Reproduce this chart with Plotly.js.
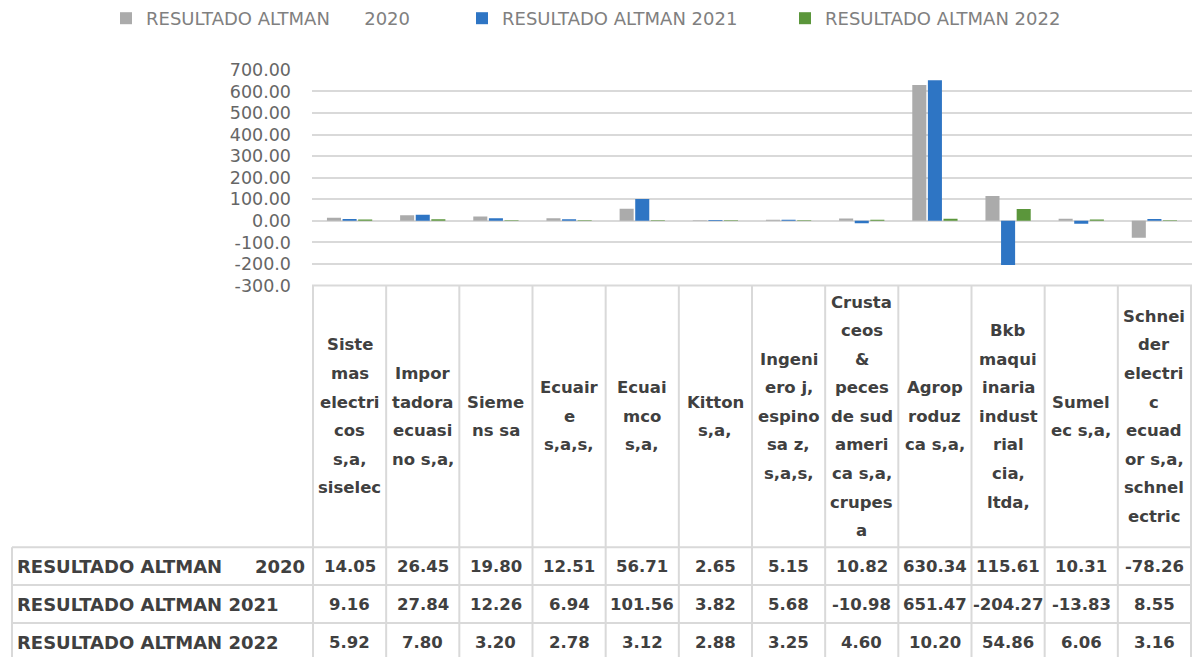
<!DOCTYPE html>
<html>
<head>
<meta charset="utf-8">
<script src="https://cdn.plot.ly/plotly-3.0.1.min.js"></script>
<style>html,body{margin:0;padding:0;background:#fff;}#chart{width:1199px;height:657px;}</style>
</head>
<body>
<div id="chart"></div>
<script>
// ---- data ----
const categories = [
  "Sistemas electricos s,a, siselec",
  "Importadora ecuasino s,a,",
  "Siemens sa",
  "Ecuaire s,a,s,",
  "Ecuaimco s,a,",
  "Kitton s,a,",
  "Ingeniero j, espinosa z, s,a,s,",
  "Crustaceos & peces de sudamerica s,a, crupesa",
  "Agroproduca s,a,",
  "Bkb maquinaria industrial cia, ltda,",
  "Sumelec s,a,",
  "Schneider electric ecuador s,a, schnelectric"
];
const headerLines = [
  ["Siste","mas","electri","cos","s,a,","siselec"],
  ["Impor","tadora","ecuasi","no s,a,"],
  ["Sieme","ns sa"],
  ["Ecuair","e","s,a,s,"],
  ["Ecuai","mco","s,a,"],
  ["Kitton","s,a,"],
  ["Ingeni","ero j,","espino","sa z,","s,a,s,"],
  ["Crusta","ceos","&","peces","de sud","ameri","ca s,a,","crupes","a"],
  ["Agrop","roduz","ca s,a,"],
  ["Bkb","maqui","inaria","indust","rial","cia,","ltda,"],
  ["Sumel","ec s,a,"],
  ["Schnei","der","electri","c","ecuad","or s,a,","schnel","ectric"]
];
const seriesNames = ["RESULTADO ALTMAN\u00a0\u00a0\u00a0\u00a0\u00a0\u00a02020", "RESULTADO ALTMAN 2021", "RESULTADO ALTMAN 2022"];
const rowLabelLeft = ["RESULTADO ALTMAN", "RESULTADO ALTMAN 2021", "RESULTADO ALTMAN 2022"];
const rowLabelRight = ["2020", "", ""];
const altman2020 = [14.05, 26.45, 19.80, 12.51, 56.71, 2.65, 5.15, 10.82, 630.34, 115.61, 10.31, -78.26];
const altman2021 = [9.16, 27.84, 12.26, 6.94, 101.56, 3.82, 5.68, -10.98, 651.47, -204.27, -13.83, 8.55];
const altman2022 = [5.92, 7.80, 3.20, 2.78, 3.12, 2.88, 3.25, 4.60, 10.20, 54.86, 6.06, 3.16];
const tickVals = [-300, -200, -100, 0, 100, 200, 300, 400, 500, 600, 700];
const tickText = ["-300.0", "-200.0", "-100.0", "0.00", "100.00", "200.00", "300.00", "400.00", "500.00", "600.00", "700.00"];
const seriesColors = ["#ababab", "#2e75c4", "#5b963b"];

// ---- layout helpers ----
const W = 1199, H = 657;
const py = px => 1 - px / H;
const px2x = px => px / W;
const xDomain = [312 / W, 1192 / W];
const yTopPx = 69, yBotPx = 285;
const headerTop = 285, headerBot = 547;
const rowTops = [547, 585, 623];
const rowH = 38;
const lineGap = 28.6;
const gridColor = "#d9d9d9";
const textColor = "#404040";
const FONT = "DejaVu Sans";

const seriesData = [altman2020, altman2021, altman2022];
const legendIds = ["legend", "legend2", "legend3"];
const traces = seriesData.map((vals, k) => ({
  type: "bar",
  x: categories,
  y: vals,
  name: seriesNames[k],
  marker: {color: seriesColors[k]},
  legend: legendIds[k],
  hoverinfo: "x+y+name"
}));

const shapes = [];
const annotations = [];
const n = categories.length;
// vertical column lines (category boundaries)
for (let i = 0; i <= n; i++) {
  shapes.push({type: "line", xref: "x", yref: "paper", x0: i - 0.5, x1: i - 0.5,
    y0: py(headerTop), y1: py(H + 10), line: {color: gridColor, width: 2}});
}
// left border of label column
shapes.push({type: "line", xref: "paper", yref: "paper", x0: px2x(12), x1: px2x(12),
  y0: py(headerBot), y1: py(H + 10), line: {color: gridColor, width: 2}});
// header top
shapes.push({type: "line", xref: "paper", yref: "paper", x0: xDomain[0], x1: xDomain[1],
  y0: py(headerTop), y1: py(headerTop), line: {color: gridColor, width: 2}});
// row lines
rowTops.forEach(t => {
  shapes.push({type: "line", xref: "paper", yref: "paper", x0: px2x(12), x1: xDomain[1],
    y0: py(t), y1: py(t), line: {color: gridColor, width: 2}});
});

// header labels
const headerCenter = (headerTop + headerBot) / 2;
headerLines.forEach((lines, i) => {
  lines.forEach((ln, j) => {
    const yPx = headerCenter + (j - (lines.length - 1) / 2) * lineGap;
    annotations.push({xref: "x", yref: "paper", x: i, y: py(yPx), text: ln, showarrow: false,
      xanchor: "center", yanchor: "middle",
      font: {family: FONT, size: 16.5, color: textColor, weight: "bold"}});
  });
});
// row labels and values
seriesData.forEach((vals, r) => {
  const yc = py(rowTops[r] + rowH / 2);
  annotations.push({xref: "paper", yref: "paper", x: px2x(15), y: yc, text: rowLabelLeft[r],
    showarrow: false, xanchor: "left", yanchor: "middle",
    font: {family: FONT, size: 18, color: textColor, weight: "bold"}});
  if (rowLabelRight[r]) {
    annotations.push({xref: "paper", yref: "paper", x: px2x(307), y: yc, text: rowLabelRight[r],
      showarrow: false, xanchor: "right", yanchor: "middle",
      font: {family: FONT, size: 18, color: textColor, weight: "bold"}});
  }
  vals.forEach((v, i) => {
    annotations.push({xref: "x", yref: "paper", x: i, y: yc, text: v.toFixed(2),
      showarrow: false, xanchor: "center", yanchor: "middle",
      font: {family: FONT, size: 16.5, color: textColor, weight: "bold"}});
  });
});

const legendFont = {family: FONT, size: 18, color: "#808080"};
const legendY = py(18);
const mkLegend = xpx => ({x: px2x(xpx), xanchor: "left", y: legendY, yanchor: "middle",
  orientation: "h", font: legendFont, bgcolor: "rgba(0,0,0,0)", itemclick: false, itemdoubleclick: false});

const layout = {
  width: W, height: H,
  margin: {l: 0, r: 0, t: 0, b: 0, pad: 0},
  paper_bgcolor: "#ffffff",
  plot_bgcolor: "#ffffff",
  barmode: "group",
  bargap: 0.36,
  bargroupgap: 0.1,
  showlegend: true,
  legend: mkLegend(106),
  legend2: mkLegend(462),
  legend3: mkLegend(785),
  xaxis: {
    domain: xDomain,
    type: "category",
    showticklabels: false,
    showgrid: false,
    zeroline: false,
    showline: false,
    ticks: ""
  },
  yaxis: {
    domain: [py(yBotPx), py(yTopPx)],
    range: [-300, 700],
    tickvals: tickVals,
    ticktext: tickText,
    showgrid: true,
    gridcolor: gridColor,
    gridwidth: 2,
    zeroline: true,
    zerolinecolor: gridColor,
    zerolinewidth: 2,
    showline: false,
    ticks: "",
    ticklabelstandoff: 20,
    tickfont: {family: FONT, size: 17.5, color: "#666666"}
  },
  shapes: shapes,
  annotations: annotations
};

Plotly.newPlot("chart", traces, layout, {displayModeBar: false, staticPlot: true});
</script>
</body>
</html>
